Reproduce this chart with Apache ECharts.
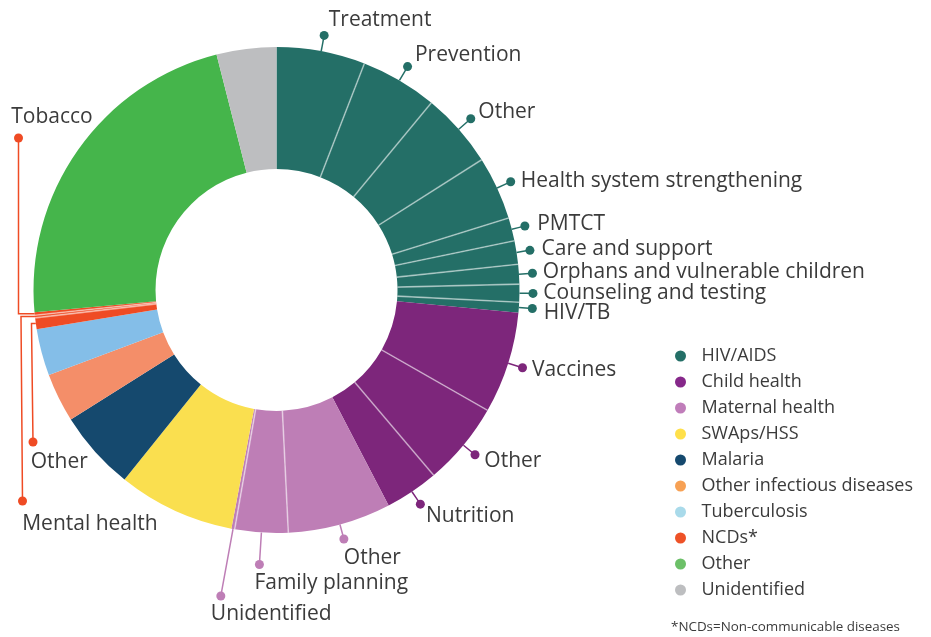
<!DOCTYPE html>
<html>
<head>
<meta charset="utf-8">
<title>Health aid by focus area</title>
<script src="https://cdn.jsdelivr.net/npm/echarts@6/dist/echarts.min.js"></script>
<style>
  html, body { margin: 0; padding: 0; background: #fff; }
  #chart { width: 931px; height: 637px; }
</style>
</head>
<body>
<div id="chart"></div>
<script>
// ---- data ----
const groups = ['HIV/AIDS', 'Child health', 'Maternal health', 'SWAps/HSS', 'Malaria',
  'Other infectious diseases', 'Tuberculosis', 'NCDs*', 'Other', 'Unidentified'];

const sliceGroup = [
  'HIV/AIDS', 'HIV/AIDS', 'HIV/AIDS', 'HIV/AIDS', 'HIV/AIDS', 'HIV/AIDS', 'HIV/AIDS', 'HIV/AIDS', 'HIV/AIDS',
  'Child health', 'Child health', 'Child health',
  'Maternal health', 'Maternal health', 'Maternal health',
  'SWAps/HSS', 'Malaria', 'Other infectious diseases', 'Tuberculosis',
  'NCDs*', 'NCDs*', 'NCDs*',
  'Other', 'Unidentified'
];
const sliceName = [
  'Treatment', 'Prevention', 'Other', 'Health system strengthening', 'PMTCT', 'Care and support',
  'Orphans and vulnerable children', 'Counseling and testing', 'HIV/TB',
  'Vaccines', 'Other', 'Nutrition',
  'Other', 'Family planning', 'Unidentified',
  'SWAps/HSS', 'Malaria', 'Other infectious diseases', 'Tuberculosis',
  'Other', 'Mental health', 'Tobacco',
  'Other', 'Unidentified'
];
// share of total (%)
const sliceValue = [
  5.89, 5.11, 5.0, 4.22, 1.53, 1.56, 1.31, 1.19, 0.69,
  6.75, 5.56, 3.56,
  6.86, 3.53, 0.22,
  7.78, 5.31, 3.25, 3.11,
  0.75, 0.17, 0.19,
  22.5, 3.97
];

// ---- styles ----
const sliceColors = ['#246f67', '#7d267b', '#be7eb6', '#fadf4f', '#15496e',
  '#f48e69', '#84bee8', '#ef4b24', '#45b54b', '#bdbec0'];
const legendColors = ['#246f67', '#86288a', '#c07dba', '#ffe04a', '#15496e',
  '#f7a154', '#a9daea', '#ee5227', '#6cc068', '#bdbec0'];
const FONT = 'Open Sans';
const TEXT = '#3b3b3b';

const CX = 276.5, CY = 290, R0 = 121, R = 243;

// leader / label placement for the labelled sub-slices (keyed by slice index)
// len: radial leader past the ring; elbowX/dotY: bent leader; tx/ty: text offset from the dot
const labelCfg = {
  0: {len: 16, tx: 4.6, ty: -16.5},
  1: {len: 16, tx: 7.4, ty: -12.7},
  2: {len: 16, tx: 7.6, ty: -8.3},
  3: {len: 15, tx: 10, ty: -2.7},
  4: {len: 13.5, tx: 12.3, ty: -3.4},
  5: {len: 13.5, tx: 11.7, ty: -2.5},
  6: {len: 13.5, tx: 10.4, ty: -2.5},
  7: {len: 13.5, tx: 10.3, ty: -1.9},
  8: {len: 13.5, tx: 11.3, ty: 3},
  9: {len: 15, tx: 9.4, ty: 1.1},
  10: {len: 15, tx: 9.3, ty: 4.8},
  11: {len: 15, tx: 5.7, ty: 10.8},
  12: {len: 15, tx: 0, ty: 17},
  13: {len: 32, tx: -5, ty: 17},
  14: {len: 68, tx: -10, ty: 17},
  19: {elbowX: -2, dotDX: 1.5, dotY: 152, tx: -2.3, ty: 19},
  20: {elbowX: -12.5, dotDX: 1.5, dotY: 211, tx: -0.3, ty: 21.5},
  21: {elbowX: -15, dotDX: 0, dotY: -152, tx: -7.3, ty: -22.2}
};

const total = sliceValue.reduce((a, b) => a + b, 0);
const midAngle = [];
const separators = [];
let acc = 0;
sliceValue.forEach((v, i) => {
  midAngle.push((acc + v / 2) / total * Math.PI * 2);
  acc += v;
  if (i < sliceValue.length - 1 && sliceGroup[i] === sliceGroup[i + 1]) separators.push(acc);
});

function pt(th, r) {
  return [CX + r * Math.sin(th), CY - r * Math.cos(th)];
}

function geom(i) {
  const c = labelCfg[i];
  const th = midAngle[i];
  const edge = pt(th, R);
  let dot, line;
  if (c.elbowX != null) {
    const ex = CX - R + c.elbowX;
    dot = [ex + c.dotDX, CY + c.dotY];
    line = [edge, [ex, edge[1]], dot];
  } else {
    dot = pt(th, R + c.len);
    line = [edge, pt(th, R + c.len / 2), dot];
  }
  // +1.5 moves the text box middle so the capitals centre on ty
  const text = {x: dot[0] + c.tx, y: dot[1] + c.ty + 1.5, align: 'left', verticalAlign: 'middle'};
  return {dot, line, text};
}

const colorOf = i => sliceColors[groups.indexOf(sliceGroup[i])];

const chart = echarts.init(document.getElementById('chart'));
chart.setOption({
  animation: false,
  backgroundColor: '#fff',
  title: {
    text: '*NCDs=Non-communicable diseases',
    left: 671, top: 621, padding: 0,
    textStyle: {fontSize: 13.4, fontWeight: 'normal', color: TEXT, fontFamily: FONT}
  },
  legend: {
    orient: 'vertical', left: 670, top: 341,
    icon: 'circle', itemWidth: 32, itemHeight: 11, itemGap: 6,
    selectedMode: false,
    data: groups,
    textStyle: {fontSize: 18, color: TEXT, fontFamily: FONT, lineHeight: 20}
  },
  polar: {center: [CX, CY], radius: [R0, R]},
  angleAxis: {type: 'value', min: 0, max: total, startAngle: 90, clockwise: true, show: false},
  radiusAxis: {type: 'value', min: 0, max: 1, show: false},
  series: [
    {
      type: 'pie',
      center: [CX, CY], radius: [R0, R],
      startAngle: 90, clockwise: true,
      avoidLabelOverlap: false, silent: true,
      label: {position: 'outside', color: TEXT, fontSize: 21, fontFamily: FONT},
      labelLine: {show: false},
      data: sliceValue.map((v, i) => ({
        name: sliceGroup[i] + ' · ' + sliceName[i],
        value: v,
        itemStyle: {color: colorOf(i)},
        label: {show: !!labelCfg[i], formatter: sliceName[i]}
      })),
      labelLayout(params) {
        if (!labelCfg[params.dataIndex]) return {};
        return geom(params.dataIndex).text;
      }
    },
    {
      // leader lines and dots
      type: 'pie',
      center: [CX, CY], radius: [R0, R],
      startAngle: 90, clockwise: true,
      avoidLabelOverlap: false, silent: true, z: 3,
      itemStyle: {color: 'rgba(0,0,0,0)'},
      label: {position: 'outside', formatter: ' ', fontSize: 1, width: 9, height: 9, borderRadius: 4.5, padding: 0},
      labelLine: {show: true, lineStyle: {width: 1.5}},
      data: sliceValue.map((v, i) => ({
        name: sliceGroup[i] + ' · ' + sliceName[i],
        value: v,
        label: {show: !!labelCfg[i], backgroundColor: colorOf(i)},
        labelLine: {show: !!labelCfg[i], lineStyle: {color: colorOf(i)}}
      })),
      labelLayout(params) {
        if (!labelCfg[params.dataIndex]) return {};
        const g = geom(params.dataIndex);
        return {x: g.dot[0], y: g.dot[1], align: 'center', verticalAlign: 'middle', labelLinePoints: g.line};
      }
    },
    {
      // thin light lines between sub-slices of one group
      type: 'custom',
      coordinateSystem: 'polar',
      silent: true, z: 4,
      data: separators.map(v => [1, v]),
      renderItem(params, api) {
        const v = api.value(1);
        const a = api.coord([0, v]);
        const b = api.coord([1, v]);
        return {
          type: 'line',
          shape: {x1: a[0], y1: a[1], x2: b[0], y2: b[1]},
          style: {stroke: 'rgba(255,255,255,0.5)', lineWidth: 1.6}
        };
      }
    },
    {
      // legend entries (one per focus area)
      type: 'pie',
      center: [-50, -50], radius: [0, 0],
      silent: true,
      label: {show: false}, labelLine: {show: false},
      data: groups.map((g, i) => ({name: g, value: 1, itemStyle: {color: legendColors[i]}}))
    }
  ]
});
</script>
</body>
</html>
